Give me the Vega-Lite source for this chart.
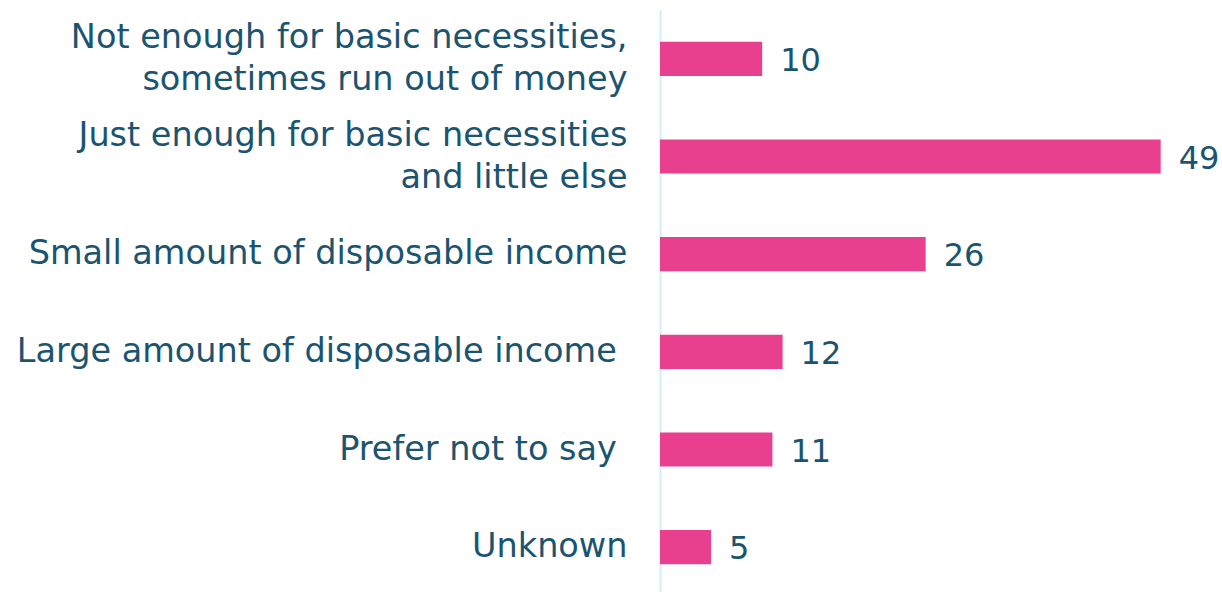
{
  "$schema": "https://vega.github.io/schema/vega-lite/v6.json",
  "width": 562,
  "height": 586,
  "autosize": {"type": "none"},
  "padding": {"left": 660, "top": 10, "right": 0, "bottom": 0},
  "background": "white",
  "config": {"view": {"stroke": null}, "font": "DejaVu Sans"},
  "data": {
    "values": [
      {"category": "Not enough for basic necessities,|sometimes run out of money", "value": 10},
      {"category": "Just enough for basic necessities|and little else", "value": 49},
      {"category": "Small amount of disposable income", "value": 26},
      {"category": "Large amount of disposable income\u00a0\u200d", "value": 12},
      {"category": "Prefer not to say\u00a0\u200d", "value": 11},
      {"category": "Unknown", "value": 5}
    ]
  },
  "encoding": {
    "y": {
      "field": "category",
      "type": "nominal",
      "sort": null,
      "scale": {"paddingInner": 0.65, "paddingOuter": 0.325},
      "axis": {
        "title": null,
        "ticks": false,
        "domainColor": "#d2eefa",
        "domainWidth": 2,
        "labelExpr": "split(datum.label, '|')",
        "labelFont": "DejaVu Sans",
        "labelFontSize": 33.5,
        "labelLineHeight": 42,
        "labelColor": "#1b5470",
        "labelPadding": 33,
        "labelLimit": 700,
        "labelAlign": "right",
        "labelBaseline": "middle",
        "labelOffset": {"condition": {"test": "indexof(datum.value, '|') >= 0", "value": -21}, "value": 0}
      }
    },
    "x": {
      "field": "value",
      "type": "quantitative",
      "scale": {"domain": [0, 55]},
      "axis": null
    }
  },
  "layer": [
    {"mark": {"type": "bar", "color": "#e8408f"}},
    {
      "mark": {"type": "text", "align": "left", "baseline": "middle", "dx": 18, "dy": 2, "fontSize": 32, "color": "#1b5470", "font": "DejaVu Sans"},
      "encoding": {"text": {"field": "value", "type": "quantitative"}}
    }
  ]
}
